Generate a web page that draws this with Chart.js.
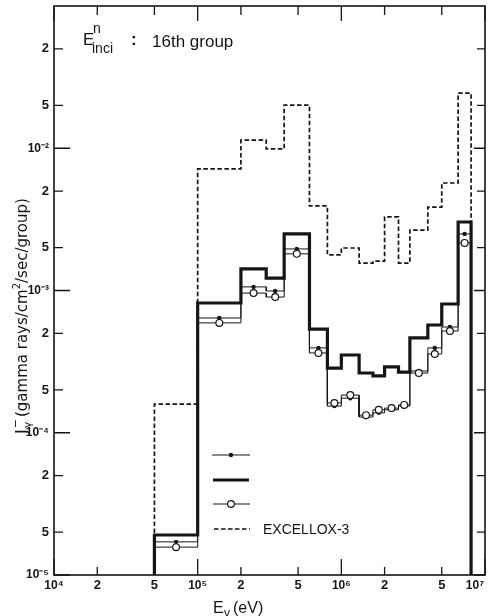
<!DOCTYPE html>
<html>
<head>
<meta charset="utf-8">
<script src="https://cdn.jsdelivr.net/npm/chart.js@4"></script>
<style>
  html, body { margin: 0; padding: 0; background: #fff; }
  #wrap { width: 492px; height: 616px; position: relative; }
</style>
</head>
<body>
<div id="wrap"><canvas id="c"></canvas></div>
<script>
// Gamma-ray energy group boundaries (eV)
const binEdges = [5e4, 1e5, 2e5, 3e5, 4e5, 6e5, 8e5, 1e6, 1.33e6, 1.66e6, 2e6, 2.5e6, 3e6, 4e6, 5e6, 6.5e6, 8e6];

// Group fluxes (gamma rays/cm2/sec/group), one value per group
const fluxThick    = [1.91e-5, 8.17e-4, 1.42e-3, 1.22e-3, 2.50e-3, 5.36e-4, 2.85e-4, 3.52e-4, 2.63e-4, 2.51e-4, 2.90e-4, 2.67e-4, 4.64e-4, 5.72e-4, 8.04e-4, 3.03e-3];
const fluxDots     = [1.71e-5, 6.41e-4, 1.06e-3, 9.92e-4, 1.96e-3, 3.95e-4, 1.54e-4, 1.75e-4, 1.29e-4, 1.38e-4, 1.45e-4, 1.54e-4, 2.72e-4, 3.95e-4, 5.54e-4, 2.50e-3];
const fluxCircles  = [1.57e-5, 5.92e-4, 9.59e-4, 9.00e-4, 1.81e-3, 3.64e-4, 1.62e-4, 1.84e-4, 1.33e-4, 1.45e-4, 1.49e-4, 1.57e-4, 2.63e-4, 3.58e-4, 5.19e-4, 2.16e-3];
const fluxExcellox = [1.59e-4, 7.15e-3, 1.14e-2, 9.89e-3, 2.01e-2, 3.93e-3, 1.78e-3, 1.99e-3, 1.56e-3, 1.61e-3, 3.29e-3, 1.56e-3, 2.66e-3, 3.86e-3, 5.70e-3, 2.44e-2];

// Axis ticks and their printed labels (the last x label carries trailing figure
// spaces so that it stays inside the canvas while centred on its tick)
const xTickValues = [1e4, 2e4, 5e4, 1e5, 2e5, 5e5, 1e6, 2e6, 5e6, 1e7];
const xTickLabels = ['10\u2074', '2', '5', '10\u2075', '2', '5', '10\u2076', '2', '5', '10\u2077\u2007\u2007\u2007'];
const yTickValues = [1e-5, 2e-5, 5e-5, 1e-4, 2e-4, 5e-4, 1e-3, 2e-3, 5e-3, 1e-2, 2e-2, 5e-2];
const yTickLabels = ['10\u207B\u2075', '5', '2', '10\u207B\u2074', '5', '2', '10\u207B\u00B3', '5', '2', '10\u207B\u00B2', '5', '2'];

const X_MIN = 1e4, X_MAX = 1e7, Y_MIN = 1e-5, Y_MAX = 1e-1;
const INK = '#151515';
const FONT = '"Liberation Sans", Arial, sans-serif';

const isDecade = v => Math.abs(Math.log10(v) - Math.round(Math.log10(v))) < 1e-9;

// Closed step outline of a group histogram, dropping to the axis floor at both ends
function histogramOutline(values) {
  const pts = [{ x: binEdges[0], y: Y_MIN }];
  values.forEach((v, i) => {
    pts.push({ x: binEdges[i], y: v });
    pts.push({ x: binEdges[i + 1], y: v });
  });
  pts.push({ x: binEdges[binEdges.length - 1], y: Y_MIN });
  return pts;
}
// One marker per group, at the logarithmic centre of the group
function groupMarkers(values) {
  return values.map((v, i) => ({ x: Math.sqrt(binEdges[i] * binEdges[i + 1]), y: v }));
}

const lineBase = { type: 'line', pointRadius: 0, tension: 0, fill: false, borderColor: INK,
                   borderJoinStyle: 'miter', borderCapStyle: 'butt' };

const datasets = [
  Object.assign({}, lineBase, { label: 'EXCELLOX-3', data: histogramOutline(fluxExcellox),
    borderWidth: 1.7, borderDash: [4.5, 2.5], order: 6 }),
  Object.assign({}, lineBase, { label: 'dots', data: histogramOutline(fluxDots), borderWidth: 1, order: 5 }),
  Object.assign({}, lineBase, { label: 'circles', data: histogramOutline(fluxCircles), borderWidth: 1, order: 4 }),
  Object.assign({}, lineBase, { label: 'thick', data: histogramOutline(fluxThick), borderWidth: 3.2, order: 3 }),
  { type: 'scatter', label: 'dot markers', data: groupMarkers(fluxDots), pointRadius: 2.2,
    pointBackgroundColor: INK, pointBorderColor: INK, pointBorderWidth: 0, order: 2 },
  { type: 'scatter', label: 'circle markers', data: groupMarkers(fluxCircles), pointRadius: 3.4,
    pointBackgroundColor: '#fff', pointBorderColor: INK, pointBorderWidth: 1.2, order: 1 }
];

// Frame, inward tick marks, legend and the typeset titles
const decorations = {
  id: 'decorations',
  afterDraw(chart) {
    const ctx = chart.ctx, a = chart.chartArea;
    const xs = chart.scales.x, ys = chart.scales.y;
    ctx.save();
    ctx.strokeStyle = INK; ctx.fillStyle = INK;

    // frame
    ctx.lineWidth = 1.6;
    ctx.strokeRect(a.left, a.top, a.right - a.left, a.bottom - a.top);

    // inward ticks
    ctx.lineWidth = 1.3;
    xTickValues.forEach(v => {
      const px = xs.getPixelForValue(v);
      const major = isDecade(v);
      ctx.beginPath();
      ctx.moveTo(px, a.bottom); ctx.lineTo(px, a.bottom - (major ? 16 : 8));
      ctx.moveTo(px, a.top); ctx.lineTo(px, a.top + (major ? 15 : 9));
      ctx.stroke();
    });
    yTickValues.forEach(v => {
      const py = ys.getPixelForValue(v);
      const major = isDecade(v);
      ctx.beginPath();
      ctx.moveTo(a.left, py); ctx.lineTo(a.left + (major ? 16 : 9), py);
      ctx.moveTo(a.right, py); ctx.lineTo(a.right - (major ? 11 : 8), py);
      ctx.stroke();
    });

    // legend
    const lx0 = 212, lx1 = 250, lxc = 231;
    ctx.setLineDash([]);
    ctx.lineWidth = 1.2;
    ctx.beginPath(); ctx.moveTo(lx0, 455); ctx.lineTo(lx1, 455); ctx.stroke();
    ctx.beginPath(); ctx.arc(lxc, 455, 2.2, 0, Math.PI * 2); ctx.fill();
    ctx.lineWidth = 3.2;
    ctx.beginPath(); ctx.moveTo(lx0 + 1, 480); ctx.lineTo(lx1 - 1, 480); ctx.stroke();
    ctx.lineWidth = 1.2;
    ctx.beginPath(); ctx.moveTo(lx0 + 1, 504); ctx.lineTo(lx1, 504); ctx.stroke();
    ctx.beginPath(); ctx.arc(lxc, 504, 3.4, 0, Math.PI * 2);
    ctx.fillStyle = '#fff'; ctx.fill(); ctx.stroke(); ctx.fillStyle = INK;
    ctx.lineWidth = 1.7; ctx.setLineDash([4.5, 2.5]);
    ctx.beginPath(); ctx.moveTo(lx0 + 2, 529); ctx.lineTo(lx1, 529); ctx.stroke();
    ctx.setLineDash([]);
    ctx.textBaseline = 'alphabetic';
    ctx.font = '14px ' + FONT;
    ctx.fillText('EXCELLOX-3', 263, 534);

    // incident-neutron group note
    ctx.font = '17px ' + FONT;
    ctx.fillText('E', 83, 45);
    ctx.font = '14px ' + FONT;
    ctx.fillText('n', 93, 33);
    ctx.fillText('inci', 92, 53);
    ctx.font = 'bold 17px ' + FONT;
    ctx.fillText(':', 131, 45);
    ctx.font = '17px ' + FONT;
    ctx.fillText('16th group', 152, 47);

    // x-axis title
    ctx.font = '16px ' + FONT;
    ctx.fillText('E', 213, 613);
    ctx.font = '12px ' + FONT;
    ctx.fillText('\u03B3', 224, 617);
    ctx.font = '16px ' + FONT;
    ctx.fillText('(eV)', 233, 613);

    // y-axis title, reading bottom to top
    ctx.translate(27, 434);
    ctx.rotate(-Math.PI / 2);
    let cx = 0;
    ctx.font = '16px "DejaVu Sans", sans-serif';
    ctx.fillText('J', cx, 0); cx += ctx.measureText('J').width + 1;
    ctx.font = '11px "DejaVu Sans", sans-serif';
    ctx.fillText('\u2212', cx, -8);
    ctx.fillText('\u03B3', cx, 4);
    cx += ctx.measureText('\u03B3').width;
    ctx.font = '15px "DejaVu Sans", sans-serif';
    const part1 = ' (gamma rays/cm';
    ctx.fillText(part1, cx, 0); cx += ctx.measureText(part1).width;
    ctx.font = '10px "DejaVu Sans", sans-serif';
    ctx.fillText('2', cx, -7); cx += ctx.measureText('2').width;
    ctx.font = '15px "DejaVu Sans", sans-serif';
    ctx.fillText('/sec/group)', cx, 0);
    ctx.restore();
  }
};

// Decade labels are set a little smaller than the 2 and 5 labels
const tickFont = ctx => ({ family: FONT, weight: 'bold',
  size: ctx.tick && isDecade(ctx.tick.value) ? 12 : 13 });

new Chart(document.getElementById('c'), {
  data: { datasets },
  options: {
    responsive: true,
    maintainAspectRatio: false,
    animation: false,
    devicePixelRatio: 1,
    events: [],
    layout: { padding: { top: 6, right: 7, left: 0, bottom: 0 } },
    plugins: { legend: { display: false }, tooltip: { enabled: false }, title: { display: false } },
    scales: {
      x: {
        type: 'logarithmic', min: X_MIN, max: X_MAX,
        grid: { display: false, drawTicks: false },
        border: { display: false },
        ticks: {
          autoSkip: false, maxRotation: 0, minRotation: 0, padding: 3,
          color: INK, font: tickFont,
          callback: (v, i) => xTickLabels[i]
        },
        afterBuildTicks: s => { s.ticks = xTickValues.map(v => ({ value: v })); },
        afterFit: s => { s.height = 41; s.paddingLeft = 0; s.paddingRight = 0; }
      },
      y: {
        type: 'logarithmic', min: Y_MIN, max: Y_MAX,
        grid: { display: false, drawTicks: false },
        border: { display: false },
        ticks: {
          autoSkip: false, padding: 5,
          color: INK, font: tickFont,
          callback: (v, i) => yTickLabels[i]
        },
        afterBuildTicks: s => { s.ticks = yTickValues.map(v => ({ value: v })); },
        afterFit: s => { s.width = 54; s.paddingTop = 0; s.paddingBottom = 0; }
      }
    }
  },
  plugins: [decorations]
});
</script>
</body>
</html>
